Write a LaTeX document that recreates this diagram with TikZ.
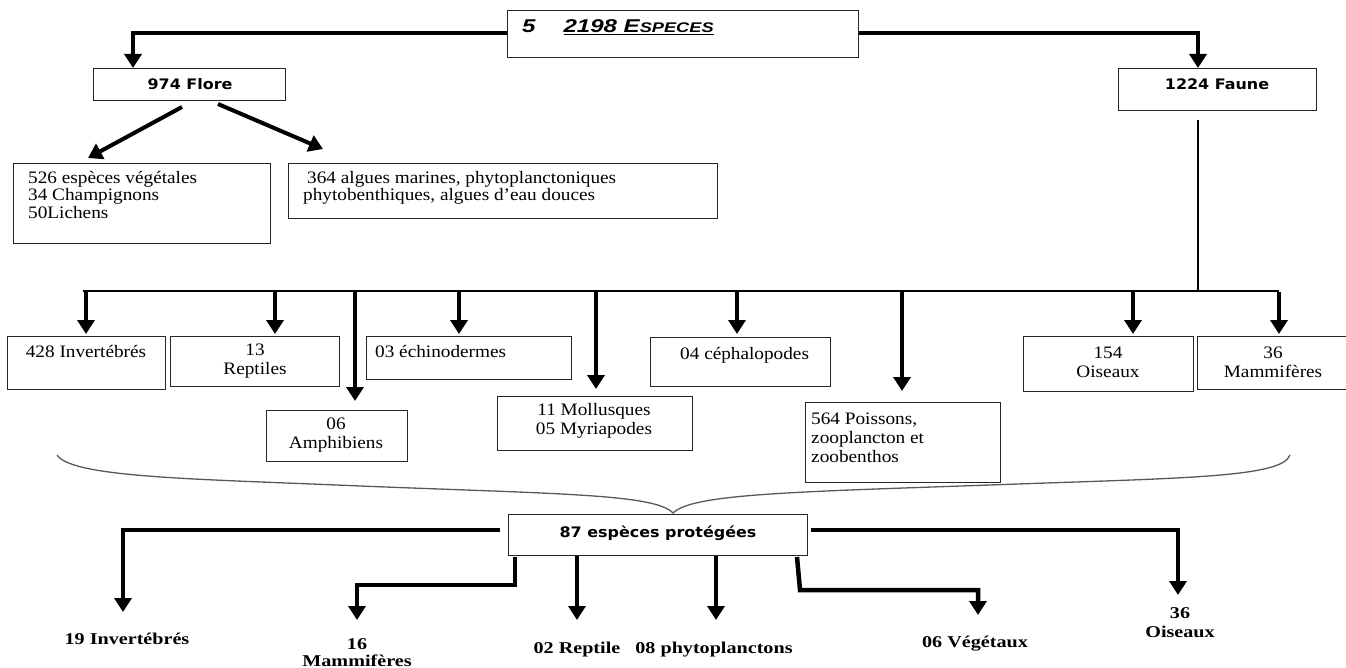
\documentclass[tikz,border=0pt]{standalone}
\usepackage{fontspec}
\setmainfont{Liberation Serif}[FakeStretch=1.1]
\newfontfamily\boldserif{Liberation Serif}[FakeStretch=1.22]
\newfontfamily\comicb{DejaVu Sans}[FakeStretch=1.1]
\newfontfamily\arialf{Liberation Sans}[FakeStretch=1.3]
\usetikzlibrary{arrows.meta}
\tikzset{
  box/.style={draw=black!85, line width=1.3pt, rectangle, inner sep=0pt, anchor=north west},
  arr/.style={line width=4.5pt, line join=miter, -{Triangle[width=17pt,length=14pt]}},
  busline/.style={line width=2pt},
  serif/.style={font=\fontsize{17.5}{18.5}\selectfont, inner sep=0pt, align=center, anchor=base},
  serifl/.style={font=\fontsize{17.5}{17.5}\selectfont, inner sep=0pt, align=left, anchor=base west},
  bottomlbl/.style={font=\boldserif\bfseries\fontsize{16.5}{16.5}\selectfont, inner sep=0pt, align=center, anchor=base},
  sanslbl/.style={font=\comicb\bfseries\fontsize{14.5}{16}\selectfont, inner sep=0pt, anchor=center},
  bracestyle/.style={draw=black!65, line width=1.3pt}
}
\begin{document}
\begin{tikzpicture}[x=1pt,y=-1pt]
\useasboundingbox (0,0) rectangle (1346,668);
% ---------- top
\node[box, minimum width=351pt, minimum height=47pt] (top) at (507,10) {};
\node[inner sep=0pt, anchor=base west, font=\arialf\bfseries\itshape\fontsize{18.5}{19}\selectfont] (toptxt) at (522,33)
  {5\hspace{28pt}\underline{2198 E{\fontsize{14}{14}\selectfont SPECES}}};
\node[box, minimum width=192pt, minimum height=32pt] (flore) at (93,68) {};
\node[sanslbl] at (190,84) {974 Flore};
\node[box, minimum width=198pt, minimum height=42pt] (faune) at (1118,68) {};
\node[sanslbl] at (1217,84) {1224 Faune};
\coordinate (tl) at (133,33);
\coordinate (tr) at (1198,33);
\draw[arr] (top.west |- tl) -- (tl) -- (tl |- flore.north);
\draw[arr] (top.east |- tr) -- (tr) -- (tr |- faune.north);
% ---------- flore children
\node[box, minimum width=257pt, minimum height=80pt] (veg) at (13,163) {};
\node[serifl] at (28,184) {526 espèces végétales};
\node[serifl] at (28,201) {34 Champignons};
\node[serifl] at (28,219) {50Lichens};
\node[box, minimum width=429pt, minimum height=55pt] (alg) at (288,163) {};
\node[serifl] at (307,184) {364 algues marines, phytoplanctoniques};
\node[serifl] at (303,201) {phytobenthiques, algues d’eau douces};
\coordinate (fa1) at (182,107);
\coordinate (fa2) at (218,104);
\coordinate (fa1e) at (88,158);
\coordinate (fa2e) at (323,149);
\draw[arr, line width=4pt] (fa1) -- (fa1e);
\draw[arr, line width=4pt] (fa2) -- (fa2e);
% ---------- faune bus
\coordinate (fv) at (1198,120);
\coordinate (busL) at (83,291);
\coordinate (busR) at (1279,291);
\draw[busline] (fv) -- (fv |- busL);
\draw[busline] (busL) -- (busR);
% middle boxes
\node[box, minimum width=158pt, minimum height=53pt] (inv) at (7,336) {};
\node[serif] at (86,357) {428 Invertébrés};
\node[box, minimum width=169pt, minimum height=50pt] (rep) at (170,336) {};
\node[serif] at (255,374) {13\\Reptiles};
\node[box, minimum width=141pt, minimum height=51pt] (amph) at (266,410) {};
\node[serif] at (336,448) {06\\Amphibiens};
\node[box, minimum width=205pt, minimum height=43pt] (ech) at (366,336) {};
\node[serifl] at (375,357) {03 échinodermes};
\node[box, minimum width=195pt, minimum height=54pt] (moll) at (497,396) {};
\node[serif] at (594,434) {11 Mollusques\\05 Myriapodes};
\node[box, minimum width=180pt, minimum height=49pt] (ceph) at (650,337) {};
\node[serifl] at (680,359) {04 céphalopodes};
\node[box, minimum width=195pt, minimum height=80pt] (poiss) at (805,402) {};
\node[serifl] at (811,424) {564 Poissons,};
\node[serifl] at (811,443) {zooplancton et};
\node[serifl] at (811,462) {zoobenthos};
\node[box, minimum width=170pt, minimum height=55pt] (ois) at (1023,336) {};
\node[serif] at (1108,377) {154\\Oiseaux};
\node[box, minimum width=160pt, minimum height=53pt] (mam) at (1197,336) {};
\node[serif] at (1273,377) {36\\Mammifères};
% bus arrows
\foreach \xx/\tgt/\gap in {86/inv/2, 275/rep/2, 355/amph/9, 459/ech/2, 596/moll/7, 737/ceph/3, 902/poiss/11, 1133/ois/2, 1279/mam/2}{
  \path (\tgt.north -| \xx,0) coordinate (tip);
  \draw[arr] (\xx,292) -- ([yshift=\gap pt]tip);
}
% ---------- brace
\draw[bracestyle] (57,455) .. controls (72,478) and (200,479) .. (360,486)
  .. controls (560,494) and (655,494) .. (673,513)
  .. controls (692,494) and (790,492) .. (990,485)
  .. controls (1180,478) and (1282,478) .. (1290,455);
% ---------- protected
\node[box, minimum width=299pt, minimum height=41pt] (prot) at (508,514) {};
\node[sanslbl] at (658,533) {87 espèces protégées};
\coordinate (c19) at (123,612);
\coordinate (c16) at (357,620);
\coordinate (c02) at (577,620);
\coordinate (c08) at (716,620);
\coordinate (c06) at (978,615);
\coordinate (c36) at (1178,595);
\draw[arr] ([xshift=-8pt]prot.west |- 0,530) -| (c19);
\draw[arr] (515,557) -- (515,585) -| (c16);
\draw[arr] (c02 |- prot.south) -- (c02);
\draw[arr] (c08 |- prot.south) -- (c08);
\draw[arr] (797,557) -- (800,590) -| (c06);
\draw[arr] ([xshift=3pt]prot.east |- 0,530) -| (c36);
\node[bottomlbl] at (127,644) {19 Invertébrés};
\node[bottomlbl] at (357,666) {16\\Mammifères};
\node[bottomlbl] at (577,653) {02 Reptile};
\node[bottomlbl] at (714,653) {08 phytoplanctons};
\node[bottomlbl] at (975,647) {06 Végétaux};
\node[bottomlbl] at (1180,637) {36\\[2pt]Oiseaux};
\end{tikzpicture}
\end{document}
